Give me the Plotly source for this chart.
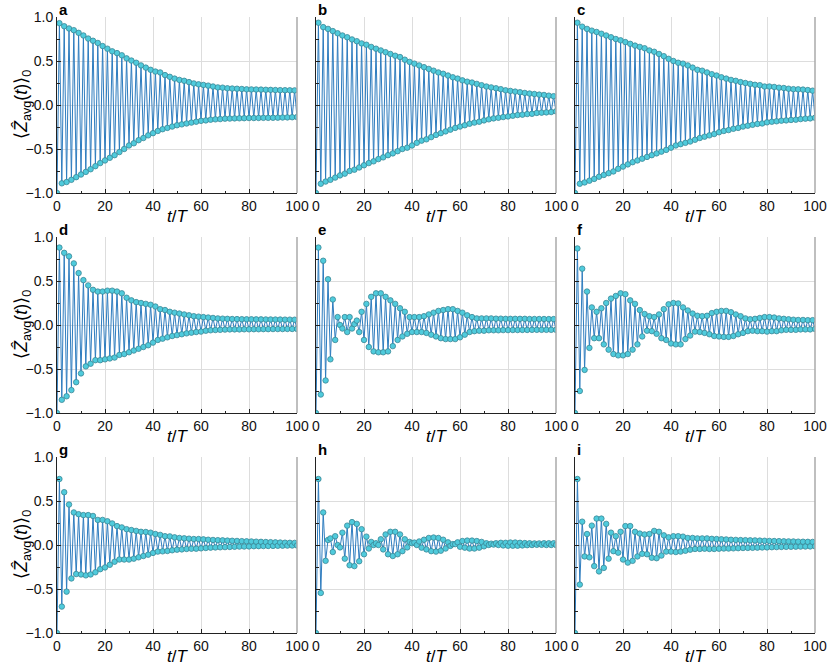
import plotly.graph_objects as go
from plotly.subplots import make_subplots

# time steps t/T
t_steps = list(range(0, 101))

# <Z_avg(t)>_0, t = 0..100
z_a = [-1.0,
       0.93, -0.89, 0.895, -0.875, 0.87, -0.85, 0.85, -0.82, 0.82, -0.79,
       0.79, -0.76, 0.755, -0.73, 0.73, -0.695, 0.705, -0.66, 0.67, -0.63,
       0.64, -0.60, 0.61, -0.57, 0.59, -0.535, 0.565, -0.50, 0.53, -0.46,
       0.505, -0.435, 0.48, -0.40, 0.45, -0.375, 0.425, -0.345, 0.40, -0.32,
       0.38, -0.295, 0.37, -0.275, 0.34, -0.26, 0.32, -0.245, 0.30, -0.23,
       0.285, -0.22, 0.275, -0.21, 0.26, -0.20, 0.245, -0.19, 0.235, -0.18,
       0.228, -0.175, 0.22, -0.167, 0.21, -0.163, 0.20, -0.16, 0.197, -0.155,
       0.19, -0.154, 0.187, -0.152, 0.185, -0.151, 0.182, -0.15, 0.178, -0.148,
       0.177, -0.148, 0.176, -0.147, 0.175, -0.146, 0.173, -0.146, 0.172, -0.145,
       0.17, -0.144, 0.169, -0.142, 0.168, -0.141, 0.167, -0.139, 0.166, -0.137]

z_b = [-1.0,
       0.935, -0.895, 0.885, -0.87, 0.865, -0.85, 0.84, -0.825, 0.815, -0.80,
       0.79, -0.78, 0.77, -0.75, 0.745, -0.735, 0.725, -0.71, 0.70, -0.685,
       0.685, -0.66, 0.66, -0.64, 0.64, -0.615, 0.62, -0.595, 0.60, -0.57,
       0.58, -0.55, 0.56, -0.525, 0.545, -0.50, 0.515, -0.485, 0.49, -0.46,
       0.47, -0.43, 0.45, -0.405, 0.43, -0.39, 0.41, -0.365, 0.39, -0.34,
       0.37, -0.32, 0.355, -0.30, 0.335, -0.28, 0.315, -0.26, 0.30, -0.245,
       0.28, -0.23, 0.265, -0.213, 0.255, -0.20, 0.24, -0.19, 0.225, -0.175,
       0.21, -0.163, 0.20, -0.152, 0.19, -0.145, 0.18, -0.137, 0.167, -0.13,
       0.16, -0.122, 0.152, -0.114, 0.145, -0.11, 0.137, -0.103, 0.13, -0.10,
       0.125, -0.09, 0.118, -0.087, 0.114, -0.084, 0.106, -0.08, 0.10, -0.072]

z_c = [-1.0,
       0.935, -0.895, 0.89, -0.88, 0.865, -0.86, 0.845, -0.84, 0.83, -0.815,
       0.81, -0.795, 0.79, -0.775, 0.77, -0.755, 0.75, -0.725, 0.735, -0.70,
       0.715, -0.675, 0.695, -0.65, 0.675, -0.63, 0.66, -0.61, 0.645, -0.59,
       0.62, -0.57, 0.605, -0.55, 0.58, -0.53, 0.555, -0.51, 0.525, -0.485,
       0.50, -0.46, 0.48, -0.445, 0.47, -0.43, 0.45, -0.415, 0.425, -0.395,
       0.40, -0.375, 0.39, -0.36, 0.37, -0.345, 0.35, -0.33, 0.335, -0.31,
       0.315, -0.295, 0.30, -0.285, 0.285, -0.27, 0.275, -0.26, 0.26, -0.245,
       0.25, -0.235, 0.24, -0.225, 0.23, -0.215, 0.225, -0.21, 0.21, -0.197,
       0.21, -0.19, 0.205, -0.185, 0.197, -0.178, 0.193, -0.175, 0.185, -0.17,
       0.18, -0.167, 0.178, -0.16, 0.175, -0.155, 0.17, -0.152, 0.163, -0.145]

z_d = [-1.0,
       0.88, -0.85, 0.82, -0.81, 0.78, -0.74, 0.70, -0.65, 0.59, -0.55,
       0.51, -0.47, 0.45, -0.44, 0.40, -0.40, 0.38, -0.40, 0.38, -0.39,
       0.39, -0.38, 0.39, -0.37, 0.38, -0.34, 0.36, -0.33, 0.31, -0.31,
       0.28, -0.29, 0.26, -0.27, 0.25, -0.25, 0.24, -0.23, 0.23, -0.20,
       0.21, -0.17, 0.18, -0.155, 0.17, -0.14, 0.15, -0.125, 0.14, -0.115,
       0.13, -0.105, 0.12, -0.095, 0.11, -0.087, 0.10, -0.08, 0.095, -0.075,
       0.09, -0.065, 0.085, -0.06, 0.08, -0.057, 0.075, -0.055, 0.072, -0.052,
       0.07, -0.05, 0.068, -0.05, 0.067, -0.05, 0.066, -0.049, 0.065, -0.049,
       0.065, -0.048, 0.064, -0.048, 0.064, -0.047, 0.063, -0.047, 0.063, -0.046,
       0.062, -0.046, 0.062, -0.046, 0.061, -0.045, 0.061, -0.045, 0.06, -0.045]

z_e = [-1.0,
       0.88, -0.79, 0.73, -0.63, 0.52, -0.39, 0.29, -0.17, 0.09, 0.0,
       -0.04, 0.09, -0.08, 0.09, -0.04, 0.01, 0.05, -0.08, 0.15, -0.17,
       0.24, -0.25, 0.32, -0.30, 0.36, -0.31, 0.36, -0.31, 0.32, -0.30,
       0.28, -0.24, 0.24, -0.17, 0.19, -0.13, 0.15, -0.10, 0.09, -0.08,
       0.09, -0.08, 0.09, -0.08, 0.10, -0.09, 0.12, -0.11, 0.14, -0.13,
       0.16, -0.15, 0.17, -0.16, 0.18, -0.16, 0.18, -0.16, 0.16, -0.14,
       0.14, -0.11, 0.11, -0.08, 0.09, -0.07, 0.075, -0.065, 0.075, -0.065,
       0.075, -0.06, 0.075, -0.06, 0.072, -0.06, 0.072, -0.058, 0.07, -0.058,
       0.07, -0.057, 0.07, -0.057, 0.07, -0.056, 0.07, -0.056, 0.068, -0.055,
       0.068, -0.055, 0.068, -0.055, 0.068, -0.055, 0.067, -0.055, 0.067, -0.055]

z_f = [-1.0,
       0.87, -0.75, 0.64, -0.51, 0.38, -0.26, 0.20, -0.15, 0.15, -0.15,
       0.19, -0.22, 0.25, -0.28, 0.30, -0.33, 0.33, -0.345, 0.36, -0.345,
       0.35, -0.33, 0.28, -0.28, 0.24, -0.22, 0.17, -0.13, 0.125, -0.065,
       0.10, -0.07, 0.09, -0.10, 0.12, -0.15, 0.18, -0.17, 0.235, -0.21,
       0.25, -0.22, 0.245, -0.22, 0.20, -0.16, 0.165, -0.12, 0.13, -0.075,
       0.105, -0.08, 0.10, -0.09, 0.105, -0.105, 0.135, -0.125, 0.15, -0.13,
       0.16, -0.135, 0.16, -0.135, 0.145, -0.125, 0.12, -0.105, 0.10, -0.09,
       0.075, -0.07, 0.065, -0.065, 0.07, -0.07, 0.08, -0.07, 0.09, -0.075,
       0.09, -0.07, 0.085, -0.07, 0.075, -0.06, 0.07, -0.055, 0.065, -0.055,
       0.06, -0.055, 0.057, -0.05, 0.057, -0.05, 0.055, -0.05, 0.055, -0.045]

z_g = [-1.0,
       0.75, -0.70, 0.60, -0.53, 0.46, -0.38, 0.37, -0.33, 0.35, -0.335,
       0.34, -0.345, 0.34, -0.335, 0.33, -0.31, 0.285, -0.275, 0.285, -0.255,
       0.27, -0.225, 0.245, -0.19, 0.215, -0.165, 0.20, -0.165, 0.18, -0.165,
       0.17, -0.155, 0.16, -0.14, 0.15, -0.125, 0.148, -0.11, 0.14, -0.09,
       0.125, -0.075, 0.115, -0.072, 0.10, -0.068, 0.098, -0.06, 0.087, -0.053,
       0.08, -0.05, 0.076, -0.045, 0.072, -0.042, 0.068, -0.042, 0.068, -0.038,
       0.064, -0.034, 0.06, -0.03, 0.057, -0.028, 0.055, -0.026, 0.053, -0.024,
       0.05, -0.022, 0.048, -0.02, 0.046, -0.018, 0.044, -0.017, 0.042, -0.016,
       0.04, -0.014, 0.038, -0.013, 0.036, -0.012, 0.034, -0.011, 0.032, -0.01,
       0.03, -0.009, 0.028, -0.008, 0.026, -0.007, 0.025, -0.006, 0.024, -0.005]

z_h = [-1.0,
       0.75, -0.545, 0.37, -0.18, 0.057, 0.075, -0.08, 0.10, 0.0, -0.027,
       0.14, -0.155, 0.22, -0.23, 0.26, -0.24, 0.24, -0.185, 0.18, -0.105,
       0.095, -0.04, 0.035, 0.0, 0.02, 0.0, 0.065, -0.05, 0.12, -0.105,
       0.15, -0.125, 0.15, -0.105, 0.12, -0.07, 0.065, -0.027, 0.035, 0.02,
       0.027, 0.0, 0.04, -0.03, 0.06, -0.05, 0.08, -0.07, 0.085, -0.075,
       0.08, -0.065, 0.06, -0.04, 0.03, -0.01, 0.01, 0.01, 0.03, -0.02,
       0.045, -0.03, 0.05, -0.04, 0.05, -0.04, 0.045, -0.03, 0.035, -0.015,
       0.02, 0.0, 0.015, 0.005, 0.02, 0.0, 0.025, -0.005, 0.025, -0.008,
       0.028, -0.008, 0.028, -0.008, 0.025, -0.005, 0.022, -0.002, 0.02, 0.0,
       0.018, 0.002, 0.018, 0.002, 0.02, 0.0, 0.02, 0.0, 0.02, 0.0]

z_i = [-1.0,
       0.75, -0.45, 0.265, -0.13, 0.125, -0.14, 0.22, -0.24, 0.30, -0.30,
       0.30, -0.26, 0.24, -0.155, 0.14, -0.07, 0.10, -0.087, 0.15, -0.165,
       0.215, -0.20, 0.215, -0.18, 0.15, -0.13, 0.13, -0.10, 0.12, -0.105,
       0.125, -0.145, 0.16, -0.15, 0.15, -0.12, 0.11, -0.075, 0.087, -0.075,
       0.10, -0.08, 0.10, -0.075, 0.095, -0.065, 0.08, -0.053, 0.08, -0.045,
       0.075, -0.045, 0.075, -0.042, 0.075, -0.045, 0.07, -0.045, 0.068, -0.042,
       0.065, -0.04, 0.063, -0.04, 0.06, -0.038, 0.058, -0.036, 0.056, -0.034,
       0.055, -0.033, 0.053, -0.032, 0.052, -0.03, 0.05, -0.028, 0.048, -0.027,
       0.046, -0.025, 0.045, -0.024, 0.044, -0.022, 0.042, -0.021, 0.041, -0.02,
       0.04, -0.019, 0.038, -0.018, 0.037, -0.017, 0.036, -0.016, 0.035, -0.015]

panels = [z_a, z_b, z_c, z_d, z_e, z_f, z_g, z_h, z_i]
panel_labels = ['a', 'b', 'c', 'd', 'e', 'f', 'g', 'h', 'i']

x_ticks = [0, 20, 40, 60, 80, 100]
x_minor = [10, 30, 50, 70, 90]
y_ticks = [-1.0, -0.5, 0.0, 0.5, 1.0]
y_ticktext = ['\u22121.0', '\u22120.5', '0.0', '0.5', '1.0']
y_minor = [-0.75, -0.25, 0.25, 0.75]

W, H = 830, 668
# panel boxes in window pixels (left, right) / (top, bottom)
col_px = [(57, 297), (316, 556), (575, 815)]
row_px = [(17, 193), (237, 413), (457, 633)]

fig = make_subplots(rows=3, cols=3)

for k, z in enumerate(panels):
    r = k // 3 + 1
    c = k % 3 + 1
    fig.add_trace(go.Scatter(x=t_steps, y=z, mode='lines+markers',
                             line=dict(color='#2f7dbf', width=1),
                             marker=dict(size=5.5, color='#4fcbdc',
                                         line=dict(color='#3a8796', width=0.8)),
                             showlegend=False, hoverinfo='x+y'),
                  row=r, col=c)

font_main = 'Liberation Sans, Arial, sans-serif'
annotations = []
shapes = []
for k in range(9):
    r = k // 3
    c = k % 3
    n = '' if k == 0 else str(k + 1)
    xl, xr = col_px[c]
    yt, yb = row_px[r]
    fig.layout['xaxis' + n].update(
        domain=[xl / W, xr / W], range=[0, 100], automargin=False,
        tickvals=x_ticks, ticks='inside', ticklen=4, tickcolor='#222',
        showline=True, linecolor='#222', linewidth=1,
        showgrid=True, gridcolor='#dddddd', gridwidth=1, zeroline=False,
        tickfont=dict(size=14, color='#111', family=font_main),
        minor=dict(tickvals=x_minor, ticks='inside', ticklen=2.5,
                   tickcolor='#222', showgrid=False))
    fig.layout['yaxis' + n].update(
        domain=[1 - yb / H, 1 - yt / H], range=[-1, 1], automargin=False,
        tickvals=y_ticks, ticktext=y_ticktext, ticks='inside', ticklen=4,
        tickcolor='#222', showticklabels=(c == 0),
        showline=True, linecolor='#222', linewidth=1,
        showgrid=True, gridcolor='#dddddd', gridwidth=1, zeroline=False,
        tickfont=dict(size=14, color='#111', family=font_main),
        minor=dict(tickvals=y_minor, ticks='inside', ticklen=2.5,
                   tickcolor='#222', showgrid=False))

    # light right spine
    shapes.append(dict(type='line', xref='x' + n + ' domain', yref='y' + n + ' domain',
                       x0=1, x1=1, y0=0, y1=1,
                       line=dict(color='#aaaaaa', width=1.5)))

    # panel letter
    annotations.append(dict(text='<b>' + panel_labels[k] + '</b>',
                            xref='x' + n + ' domain', yref='y' + n + ' domain',
                            x=0, y=1, xanchor='left', yanchor='bottom',
                            yshift=-3, showarrow=False,
                            font=dict(size=15, color='#000', family=font_main)))
    # x title
    annotations.append(dict(text='<i>t</i>/<i>T</i>',
                            xref='x' + n + ' domain', yref='y' + n + ' domain',
                            x=0.5, y=0, xanchor='center', yanchor='middle',
                            yshift=-23, showarrow=False,
                            font=dict(size=17, color='#000', family=font_main)))
    # y title on left column
    if c == 0:
        annotations.append(dict(text='\u27e8<i>\u1e90</i><sub>avg</sub>(<i>t</i>)\u27e9<sub>0</sub>',
                                xref='x' + n + ' domain', yref='y' + n + ' domain',
                                x=0, y=0.5, xanchor='center', yanchor='middle',
                                xshift=-35, textangle=-90, showarrow=False,
                                font=dict(size=18, color='#000', family=font_main)))

fig.update_layout(width=W, height=H, margin=dict(l=0, r=0, t=0, b=0),
                  paper_bgcolor='white', plot_bgcolor='white',
                  annotations=annotations, shapes=shapes,
                  font=dict(family=font_main))

# drop the page's default body margin so the figure fills the window
fig.write_html("out.html", config={'displayModeBar': False},
               post_script="document.body.style.margin='0px';")
